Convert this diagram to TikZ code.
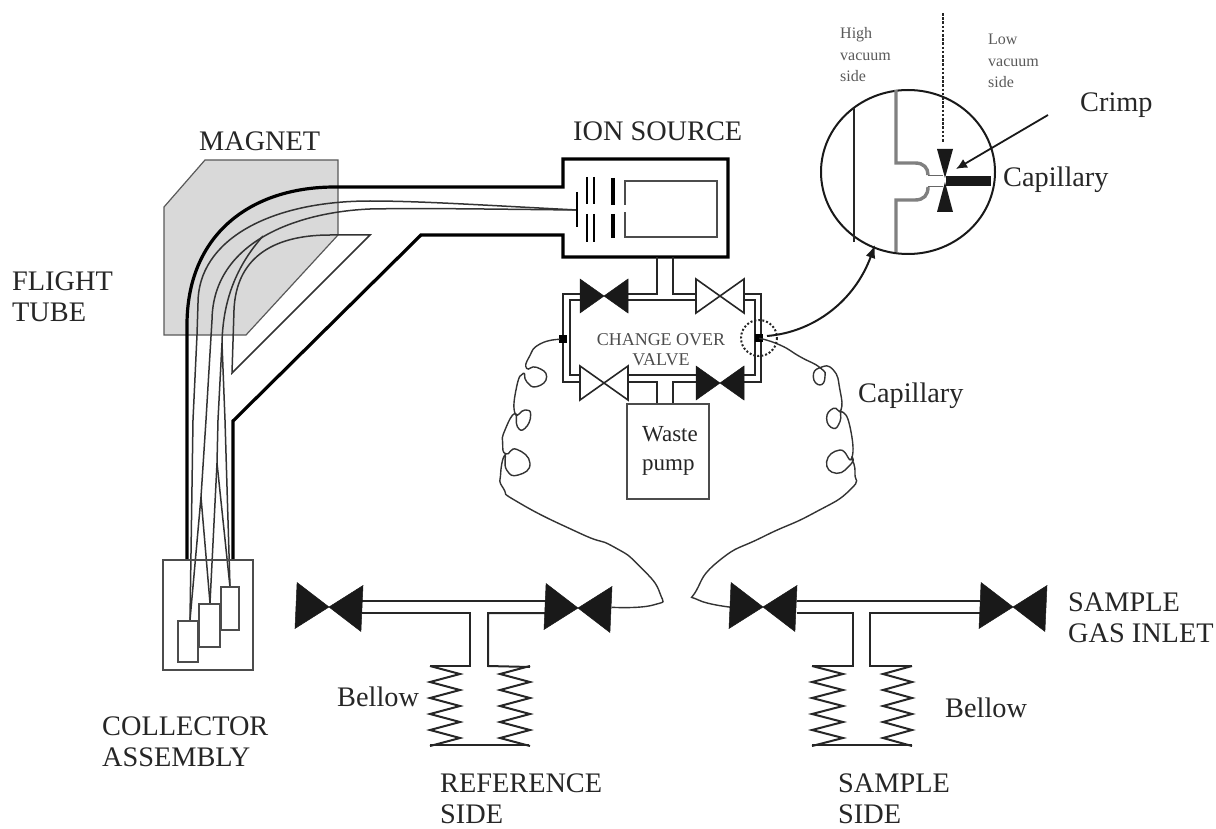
\documentclass[tikz,border=0pt]{standalone}
\usepackage{fontspec}
\setmainfont{Liberation Serif}
\usetikzlibrary{arrows.meta}

\newcommand{\drawvalve}[5]{%
  \path[shift={(#1,#2)},#5] (-#3,-#4) -- (#3,#4) -- (#3,-#4) -- (-#3,#4) -- cycle;}

\begin{document}
\begin{tikzpicture}[
  x=1pt, y=-1pt,
  label/.style={
    anchor=west,
    inner sep=0pt,
    align=left,
    text=black!85,
    font=\fontsize{28.3}{31.5}\selectfont
  },
  smalllabel/.style={label, text=black!65, font=\fontsize{16}{21.5}\selectfont},
  valvelabel/.style={anchor=center, inner sep=0pt, align=center, text=black!70, font=\fontsize{18}{20}\selectfont},
  wall/.style={line width=3.2pt, draw=black, line join=miter},
  pipe/.style={line width=2pt, draw=black!85},
  beam/.style={line width=1.5pt, draw=black!80},
  box/.style={line width=1.6pt, draw=black!70},
  tube/.style={line width=1.4pt, draw=black!80, smooth, tension=1},
  valvefull/.style={fill=black!90, draw=black!90, line width=0.5pt, line join=miter},
  valveopen/.style={fill=white, draw=black!85, line width=1.6pt, line join=miter},
  bigvalve/.style={valvefull, rotate=-2.6},
  flow/.style={-{Latex[length=13pt,width=10pt]}, line width=2pt, draw=black!90}
]
\useasboundingbox (0,0) rectangle (1216,829);

% --- MAGNET --------------------------------------------------------
\draw[fill=black!15, draw=black!65, line width=1.2pt]
  (205,160) -- (338,160) -- (338,235) -- (246,335) -- (164,335) -- (164,207) -- cycle;

% --- FLIGHT TUBE ---------------------------------------------------
\draw[wall] (187,560) -- (187,325) .. controls (187,235) and (250,187) .. (335,187) -- (563,187)
  -- (563,159) -- (728,159) -- (728,257) -- (563,257) -- (563,235) -- (421,235) -- (233,421) -- (233,560);
\draw[beam] (330,235) .. controls (270,235) and (236,260) .. (234,310) -- (232,373) -- (370,235) -- cycle;

% --- BEAMS ---------------------------------------------------------
\coordinate (slit) at (577,210);
\coordinate (hitone) at (190,620);
\coordinate (hittwo) at (210,603);
\coordinate (hitthree) at (230,587);
\draw[beam] (slit) .. controls (480,205) and (420,201) .. (370,201)
  .. controls (270,201) and (198,240) .. (198,303) -- (197,335) -- (193,420) -- (hitone);
\draw[beam] (slit) .. controls (480,209) and (420,208) .. (370,209)
  .. controls (300,212) and (213,240) .. (212,320) -- (206,420) -- (201,497) -- (hitone);
\draw[beam] (201,497) -- (hittwo);
\draw[beam] (263,236) .. controls (240,262) and (223,295) .. (222,343) -- (218,420) -- (217,463) -- (hittwo);
\draw[beam] (217,463) -- (hitthree);
\draw[beam] (222,343) -- (225,420) -- (hitthree);

% --- COLLECTOR -----------------------------------------------------
\draw[box] (163,560) rectangle (253,670);
\draw[box, fill=white] (178,621) rectangle (198,662);
\draw[box, fill=white] (199,604) rectangle (220,647);
\draw[box, fill=white] (221,587) rectangle (239,630);

% --- ION SOURCE ----------------------------------------------------
\draw[line width=1.4pt] (577,192) -- (577,227);
\draw[line width=1.6pt] (587,177) -- (587,204) (587,214) -- (587,242);
\draw[line width=1.6pt] (594,177) -- (594,204) (594,214) -- (594,242);
\draw[line width=3.2pt] (613,178) -- (613,205) (613,214) -- (613,238);
\draw[box] (625,205) -- (625,181) -- (717,181) -- (717,237) -- (625,237) -- (625,212);

% --- CHANGE OVER VALVE ---------------------------------------------
\draw[pipe] (563,339) -- (563,294) -- (580,294) (628,294) -- (657,294) -- (657,257);
\draw[pipe] (673,257) -- (673,294) -- (697,294) (744,294) -- (761,294) -- (761,382) -- (744,382);
\draw[pipe] (563,339) -- (563,382) -- (581,382) (628,382) -- (657,382) -- (657,404);
\draw[pipe] (673,404) -- (673,382) -- (697,382);
\draw[pipe] (580,300) -- (570,300) -- (570,375) -- (581,375) (628,375) -- (697,375);
\draw[pipe] (628,300) -- (697,300) (744,300) -- (755,300) -- (755,375) -- (744,375);
\drawvalve{604}{296}{24}{17}{valvefull}
\drawvalve{720}{296}{24}{17}{valveopen}
\drawvalve{604}{383}{24}{17}{valveopen}
\drawvalve{720}{383}{24}{17}{valvefull}
\node[valvelabel] (changeover) at (661,350) {CHANGE OVER\\VALVE};

% --- WASTE PUMP ----------------------------------------------------
\node[draw=black!70, line width=1.6pt, minimum width=82pt, minimum height=95pt, inner sep=0pt] (pump) at (668,451.5) {};
\node[label, font=\fontsize{23}{29}\selectfont] (pumplabel) at (642,451) {Waste\\pump};

% --- CAPILLARIES ---------------------------------------------------
\node[fill=black, minimum size=8pt, inner sep=0pt] (portleft) at (563,339) {};
\node[fill=black, minimum size=8pt, inner sep=0pt] (portright) at (759,338) {};
\begin{scope}[shift={(480,330)}, scale=0.3333]
  \draw[tube] plot coordinates {(240,28) (180,42) (148,80) (140,115) (170,112) (200,140) (170,170) (140,155) (130,130)
    (110,170) (105,250) (135,240) (152,255) (135,295) (112,290) (105,250) (75,300) (68,340) (78,372)
    (110,358) (150,400) (115,435) (80,420) (75,375) (62,430) (70,475) (120,520) (300,610) (400,650)
    (480,710) (540,790) (520,825) (395,832)};
  \draw[tube] plot coordinates {(838,25) (900,45) (960,80) (1020,113) (1035,140) (1020,165) (1000,140) (1020,113)
    (1060,120) (1080,180) (1083,240) (1060,235) (1040,265) (1060,295) (1080,275) (1085,245) (1110,290)
    (1115,385) (1080,360) (1040,395) (1070,430) (1115,400) (1115,385) (1125,430) (1110,480) (1000,550)
    (850,620) (720,690) (650,780) (655,810) (755,832)};
\end{scope}
\draw[black!85, line width=2pt, dash pattern=on 2pt off 2pt] (759,338) circle[radius=18];

% --- ENLARGED VIEW -------------------------------------------------
\coordinate (zoomstart) at (767,336);
\coordinate (zoomend) at (875,245);
\draw[flow] (zoomstart) .. controls (815,332) and (855,300) .. (zoomend);
\draw[line width=2pt, draw=black!90] (908,172) ellipse[x radius=87, y radius=82];
\draw[line width=1.6pt, draw=black!85] (854,108) -- (854,242);
\draw[line width=3.4pt, draw=black!50] (896,90) -- (896,163) -- (915,163) .. controls (924,163) and (928,168) .. (928,175);
\draw[line width=3.4pt, draw=black!50] (896,252) -- (896,200) -- (915,200) .. controls (924,200) and (928,195) .. (928,187);
\draw[line width=0.8pt, draw=black!60] (928,175) -- (943,175) (928,186) -- (943,186);
\draw[line width=2.7pt, draw=black!85, dash pattern=on 2.7pt off 1.5pt] (943,13) -- (943,143);
\fill[black!90] (937,149) -- (953,149) -- (945,178) -- cycle;
\fill[black!90] (937,212) -- (953,212) -- (945,182) -- cycle;
\fill[black!90] (946,176) rectangle (991,186);
\coordinate (crimpstart) at (1048,115);
\coordinate (crimpend) at (956,169);
\draw[-{Latex[length=11pt,width=10pt]}, line width=1.8pt, draw=black!90] (crimpstart) -- (crimpend);
\node[smalllabel] (highlabel) at (840,55) {High\\vacuum\\side};
\node[smalllabel] (lowlabel) at (988,61) {Low\\vacuum\\side};
\node[label] (crimplabel) at (1080,105) {Crimp};
\node[label] (caplabel) at (1003,180) {Capillary};

% --- REFERENCE SIDE ------------------------------------------------
\draw[pipe] (362,601) -- (546,601);
\draw[pipe] (362,613) -- (470,613) -- (470,666) -- (430,666);
\draw[pipe] (546,613) -- (488,613) -- (488,666) -- (530,667);
\drawvalve{329}{607}{33}{23}{bigvalve}
\drawvalve{578}{608}{33}{23}{bigvalve}
\draw[pipe] (430,666) \foreach \i in {0,...,4} {-- (460,{674+16*\i}) -- (430,{682+16*\i})};
\draw[pipe] (530,666) \foreach \i in {0,...,4} {-- (500,{674+16*\i}) -- (530,{682+16*\i})};
\draw[pipe] (430,745) -- (529,745);

% --- SAMPLE SIDE ---------------------------------------------------
\draw[pipe] (797,601) -- (980,601);
\draw[pipe] (797,613) -- (853,613) -- (853,666) -- (812,666);
\draw[pipe] (980,613) -- (870,613) -- (870,666) -- (912,666);
\drawvalve{763}{607}{33}{23}{bigvalve}
\drawvalve{1013}{607}{33}{23}{bigvalve}
\draw[pipe] (812,666) \foreach \i in {0,...,4} {-- (843,{674+16*\i}) -- (812,{682+16*\i})};
\draw[pipe] (912,666) \foreach \i in {0,...,4} {-- (883,{674+16*\i}) -- (912,{682+16*\i})};
\draw[pipe] (812,745) -- (912,745);

% --- LABELS --------------------------------------------------------
\node[label] (magnetlabel) at (199,141) {MAGNET};
\node[label] (ionlabel) at (573,131) {ION SOURCE};
\node[label] (flightlabel) at (12,297) {FLIGHT\\TUBE};
\node[label] (collectorlabel) at (102,742) {COLLECTOR\\ASSEMBLY};
\node[label] (bellowleft) at (337,697) {Bellow};
\node[label] (referencelabel) at (440,799) {REFERENCE\\SIDE};
\node[label] (samplelabel) at (838,799) {SAMPLE\\SIDE};
\node[label] (bellowright) at (945,708) {Bellow};
\node[label] (gaslabel) at (1068,618) {SAMPLE\\GAS INLET};
\node[label] (capillarylabel) at (858,396) {Capillary};

\end{tikzpicture}
\end{document}
